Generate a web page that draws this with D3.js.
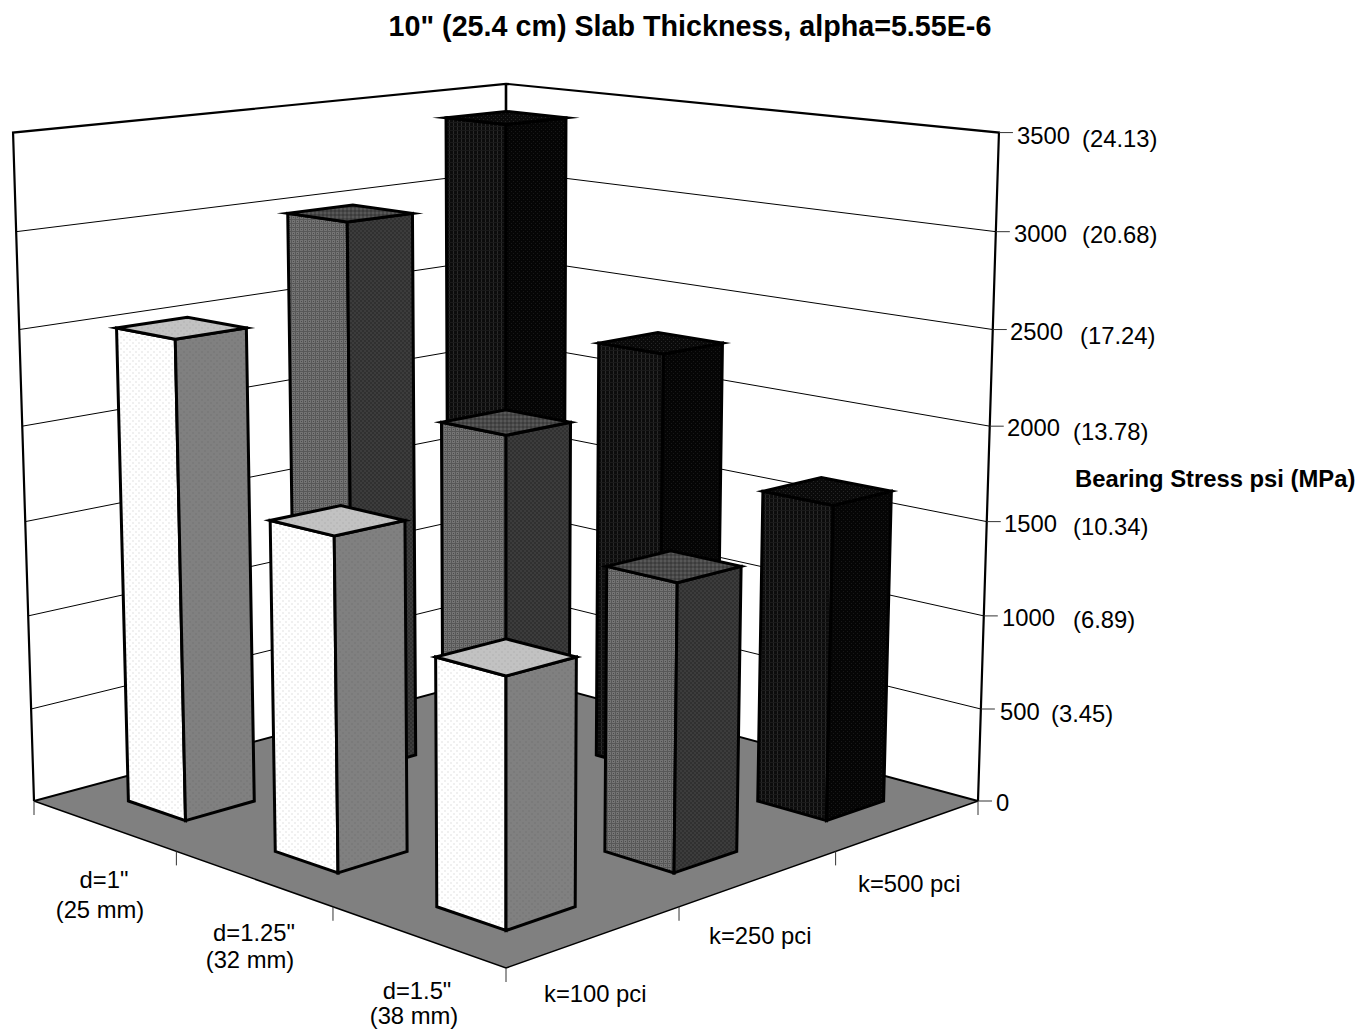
<!DOCTYPE html>
<html>
<head>
<meta charset="utf-8">
<script src="https://cdnjs.cloudflare.com/ajax/libs/d3/7.8.5/d3.min.js"></script>
<style>
body { margin: 0; background: #fff; }
text { font-family: "Liberation Sans", Arial, sans-serif; fill: #000; }
</style>
</head>
<body>
<div id="chart"></div>
<script>
var width = 1361, height = 1029;

// values, psi
var dLabels = ['d=1"', 'd=1.25"', 'd=1.5"'];
var dMm = ["(25 mm)", "(32 mm)", "(38 mm)"];
var kLabels = ["k=100 pci", "k=250 pci", "k=500 pci"];
var k100 = [2508, 1696, 1230];
var k250 = [2980, 2020, 1465];
var k500 = [3395, 2285, 1660];
var psiTicks = [0, 500, 1000, 1500, 2000, 2500, 3000, 3500];
var mpaLabels = ["", "(3.45)", "(6.89)", "(10.34)", "(13.78)", "(17.24)", "(20.68)", "(24.13)"];

// layout of the text, placed by hand in the original
var psiBase = [811, 720, 626, 532, 436, 340, 242, 144];
var mpaBase = [0, 722, 628, 535, 440, 344, 243, 147];
var psiX = [996, 1000, 1002, 1004, 1007, 1010, 1014, 1017];
var mpaX = [0, 1051, 1073, 1073, 1073, 1080, 1082, 1082];

var series = [k100, k250, k500];

var sScale = d3.scaleBand().domain(dLabels).range([0, 1]).paddingInner(0.6).paddingOuter(0.3);
var tScale = d3.scaleBand().domain(kLabels).range([0, 1]).paddingInner(0.6).paddingOuter(0.3);
var hScale = d3.scaleLinear().domain([0, 3500]).range([0, 1]);

// floor corners in screen space, s runs left->front, t runs front->right
var L = [34, 801], F = [506, 968], R = [978, 801], B = [506, 674];
var vanish = [506, 15860], alpha = -0.0425;

var dx1 = F[0] - R[0], dx2 = B[0] - R[0], sx = L[0] - F[0] + R[0] - B[0];
var dy1 = F[1] - R[1], dy2 = B[1] - R[1], sy = L[1] - F[1] + R[1] - B[1];
var den = dx1 * dy2 - dx2 * dy1;
var g = (sx * dy2 - dx2 * sy) / den;
var h = (dx1 * sy - sx * dy1) / den;

function project(s, t, v) {
	var w = 1 + g * s + h * t;
	var x = (F[0] - L[0] + g * F[0]) * s + (B[0] - L[0] + h * B[0]) * t + L[0];
	var y = (F[1] - L[1] + g * F[1]) * s + (B[1] - L[1] + h * B[1]) * t + L[1];
	var a = hScale(v) * alpha;
	return [(x + a * vanish[0]) / (w + a), (y + a * vanish[1]) / (w + a)];
}

var line = d3.line();
function poly(pts) { return line(pts) + "Z"; }

var svg = d3.select("#chart").append("svg")
	.attr("width", width)
	.attr("height", height);

// halftone fills
var defs = svg.append("defs");
function dither(id, size, bg, dots) {
	var p = defs.append("pattern")
		.attr("id", id)
		.attr("patternUnits", "userSpaceOnUse")
		.attr("width", size)
		.attr("height", size);
	p.append("rect").attr("width", size).attr("height", size).attr("fill", bg);
	dots.forEach(function(d) {
		p.append("rect")
			.attr("x", d[0]).attr("y", d[1])
			.attr("width", d[2]).attr("height", d[3])
			.attr("fill", d[4])
			.attr("shape-rendering", "crispEdges");
	});
}
dither("l0", 6, "#ffffff", [[0, 0, 2, 2, "#f0f0f0"], [3, 3, 2, 2, "#f0f0f0"]]);
dither("r0", 6, "#808080", [[0, 0, 2, 2, "#7a7a7a"], [3, 3, 2, 2, "#7a7a7a"]]);
dither("t0", 6, "#c2c2c2", [[0, 0, 2, 2, "#bababa"], [3, 3, 2, 2, "#bababa"]]);
dither("l1", 4, "#585858", [[0, 0, 3, 3, "#747474"], [1, 1, 1, 1, "#4c4c4c"]]);
dither("r1", 4, "#3c3c3c", [[0, 0, 2, 2, "#303030"], [2, 2, 2, 2, "#303030"]]);
dither("t1", 4, "#484848", [[0, 0, 2, 2, "#585858"], [2, 2, 2, 2, "#3c3c3c"]]);
dither("l2", 4, "#0c0c0c", [[1, 0, 1, 4, "#2a2a2a"], [0, 2, 4, 1, "#1a1a1a"]]);
dither("r2", 4, "#050505", [[1, 1, 1, 1, "#181818"], [3, 3, 1, 1, "#181818"]]);
dither("t2", 4, "#0a0a0a", [[1, 1, 1, 1, "#262626"], [3, 3, 1, 1, "#262626"]]);

// floor
svg.append("path")
	.attr("d", poly([[0, 0], [1, 0], [1, 1], [0, 1]].map(function(c) {
		return project(c[0], c[1], 0);
	})))
	.attr("fill", "#808080")
	.attr("stroke", "none");

svg.append("path")
	.attr("d", line([project(0, 0, 0), project(1, 0, 0), project(1, 1, 0)]))
	.attr("fill", "none").attr("stroke", "#000").attr("stroke-width", 1.5);
svg.append("path")
	.attr("d", line([project(0, 0, 0), project(0, 1, 0), project(1, 1, 0)]))
	.attr("fill", "none").attr("stroke", "#000").attr("stroke-width", 2);

// gridlines on both walls
svg.selectAll(".grid")
	.data(psiTicks.slice(1, -1))
	.enter().append("path")
	.attr("class", "grid")
	.attr("fill", "none").attr("stroke", "#000").attr("stroke-width", 1)
	.attr("d", function(d) {
		return line([project(0, 0, d), project(0, 1, d), project(1, 1, d)]);
	});

// wall frame
svg.append("path")
	.attr("fill", "none").attr("stroke", "#000").attr("stroke-width", 2.2)
	.attr("d", line([project(0, 0, 0), project(0, 0, 3500), project(0, 1, 3500), project(1, 1, 3500), project(1, 1, 0)]));
svg.append("path")
	.attr("fill", "none").attr("stroke", "#000").attr("stroke-width", 2.6)
	.attr("d", line([project(0, 1, 0), project(0, 1, 3500)]));

// value ticks
svg.selectAll(".vtick")
	.data(psiTicks)
	.enter().append("path")
	.attr("class", "vtick")
	.attr("fill", "none").attr("stroke", "#333").attr("stroke-width", 1)
	.attr("d", function(d) {
		var p = project(1, 1, d);
		return line([p, [p[0] + 14, p[1]]]);
	});

// floor ticks hanging under the front edges
var edgeTicks = [[0, 0], [1 / 3, 0], [2 / 3, 0], [1, 0], [1, 1 / 3], [1, 2 / 3], [1, 1]];
svg.selectAll(".ftick")
	.data(edgeTicks)
	.enter().append("path")
	.attr("class", "ftick")
	.attr("fill", "none").attr("stroke", "#333").attr("stroke-width", 1)
	.attr("d", function(d) {
		var p = project(d[0], d[1], 0);
		return line([p, [p[0], p[1] + 14]]);
	});

// bars, painted from the back corner to the front one
var bars = [];
series.forEach(function(vals, j) {
	vals.forEach(function(v, i) {
		bars.push({ i: i, j: j, v: v });
	});
});
bars.sort(function(a, b) { return (a.i - a.j) - (b.i - b.j); });

var bar = svg.selectAll(".bar")
	.data(bars)
	.enter().append("g")
	.attr("class", "bar")
	.attr("stroke", "#000")
	.attr("stroke-width", 3)
	.attr("stroke-linejoin", "miter")
	.attr("stroke-miterlimit", 20);

function corners(d) {
	var s0 = sScale(dLabels[d.i]), s1 = s0 + sScale.bandwidth();
	var t0 = tScale(kLabels[d.j]), t1 = t0 + tScale.bandwidth();
	return { s0: s0, s1: s1, t0: t0, t1: t1 };
}

bar.append("path")
	.attr("fill", function(d) { return "url(#l" + d.j + ")"; })
	.attr("d", function(d) {
		var c = corners(d);
		return poly([project(c.s0, c.t0, 0), project(c.s1, c.t0, 0), project(c.s1, c.t0, d.v), project(c.s0, c.t0, d.v)]);
	});
bar.append("path")
	.attr("fill", function(d) { return "url(#r" + d.j + ")"; })
	.attr("d", function(d) {
		var c = corners(d);
		return poly([project(c.s1, c.t0, 0), project(c.s1, c.t1, 0), project(c.s1, c.t1, d.v), project(c.s1, c.t0, d.v)]);
	});
bar.append("path")
	.attr("fill", function(d) { return "url(#t" + d.j + ")"; })
	.attr("d", function(d) {
		var c = corners(d);
		return poly([project(c.s0, c.t0, d.v), project(c.s1, c.t0, d.v), project(c.s1, c.t1, d.v), project(c.s0, c.t1, d.v)]);
	});

// text
svg.append("text")
	.attr("x", 690).attr("y", 36)
	.attr("text-anchor", "middle")
	.style("font-size", "28.7px").style("font-weight", "bold")
	.text('10" (25.4 cm) Slab Thickness, alpha=5.55E-6');

svg.append("text")
	.attr("x", 1075).attr("y", 487)
	.style("font-size", "23.8px").style("font-weight", "bold")
	.text("Bearing Stress psi (MPa)");

svg.selectAll(".psi")
	.data(psiTicks)
	.enter().append("text")
	.attr("class", "psi")
	.attr("x", function(d, i) { return psiX[i]; })
	.attr("y", function(d, i) { return psiBase[i]; })
	.style("font-size", "23.8px")
	.text(function(d) { return d; });

svg.selectAll(".mpa")
	.data(mpaLabels.slice(1))
	.enter().append("text")
	.attr("class", "mpa")
	.attr("x", function(d, i) { return mpaX[i + 1]; })
	.attr("y", function(d, i) { return mpaBase[i + 1]; })
	.style("font-size", "23.8px")
	.text(function(d) { return d; });

var dPos = [[104, 888, 100, 918], [254, 941, 250, 968], [417, 999, 414, 1024]];
dLabels.forEach(function(d, i) {
	svg.append("text").attr("x", dPos[i][0]).attr("y", dPos[i][1])
		.attr("text-anchor", "middle").style("font-size", "23.8px").text(d);
	svg.append("text").attr("x", dPos[i][2]).attr("y", dPos[i][3])
		.attr("text-anchor", "middle").style("font-size", "23.8px").text(dMm[i]);
});

var kPos = [[544, 1002], [709, 944], [858, 892]];
kLabels.forEach(function(d, i) {
	svg.append("text").attr("x", kPos[i][0]).attr("y", kPos[i][1])
		.style("font-size", "23.8px").text(d);
});
</script>
</body>
</html>
